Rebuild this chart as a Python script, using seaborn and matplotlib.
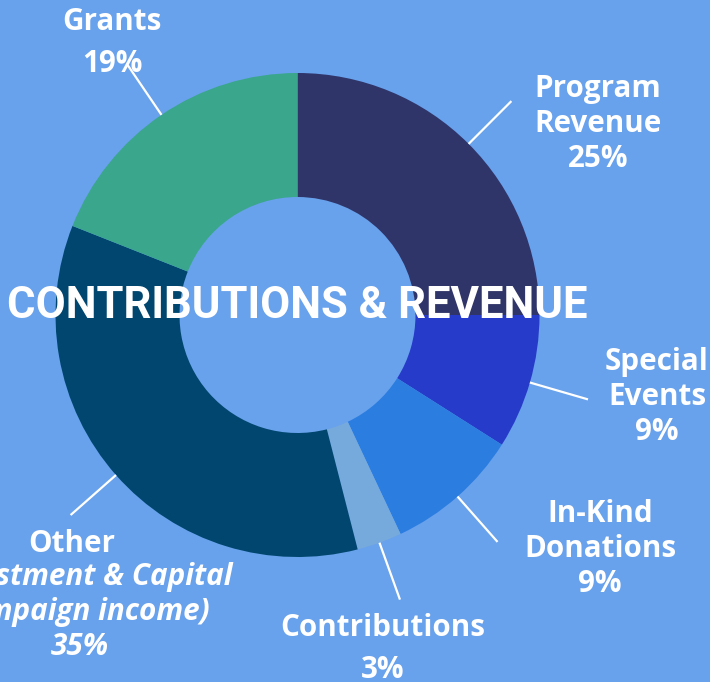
import numpy as np
import matplotlib.pyplot as plt
import seaborn as sns

# ----------------------------------------------------------
# DATA
# ----------------------------------------------------------
categories = ["Program Revenue", "Special Events", "In-Kind Donations",
              "Contributions", "Other", "Grants"]
shares = [25, 9, 9, 3, 35, 19]
slice_colors = ["#2f3469", "#263bc9", "#2b7de0", "#76aadd", "#00466e", "#3aa68c"]

BG = "#68a1ec"
W, H = 710, 682
CX, CY = 297.5, H - 315      # donut centre (pixels, y up)
R = 242                      # outer radius
RING = 124                   # ring width

sns.set_theme(style="white", rc={"figure.facecolor": BG, "axes.facecolor": BG})
plt.rcParams["font.family"] = ["Open Sans", "DejaVu Sans"]

fig = plt.figure(figsize=(W / 100, H / 100), dpi=100)
ax = fig.add_axes([0, 0, 1, 1])

wedges, _ = ax.pie(shares, colors=slice_colors, startangle=90, counterclock=False,
                   center=(CX, CY), radius=R, frame=True,
                   wedgeprops=dict(width=RING, linewidth=0))
ax.set_xlim(0, W)
ax.set_ylim(0, H)
ax.set_aspect("equal")
ax.set_axis_off()

# leader lines, radial from the middle of each slice
for w in wedges:
    mid = np.deg2rad((w.theta1 + w.theta2) / 2)
    r0, r1 = R * 1.0, R * 1.25
    ax.plot([CX + r0 * np.cos(mid), CX + r1 * np.cos(mid)],
            [CY + r0 * np.sin(mid), CY + r1 * np.sin(mid)],
            color="white", lw=1.6, solid_capstyle="butt")

# ── Labels ────────────────────────────────────────────────
lbl = dict(color="white", fontsize=21.3, fontweight="bold", ha="center", va="center")

def label(x, y, s, **kw):
    ax.text(x, H - y, s, **{**lbl, **kw})

label(598, 124, f"Program\nRevenue\n{shares[0]}%")
label(657, 397, f"Special\nEvents\n{shares[1]}%")
label(600, 549, f"In-Kind\nDonations\n{shares[2]}%")
label(383, 649, f"Contributions\n{shares[3]}%", linespacing=1.5)
label(72, 544, "Other")
label(80, 612, f"(Investment & Capital\nCampaign income)\n{shares[4]}%", style="italic")
label(112, 43, f"Grants\n{shares[5]}%", linespacing=1.5)

ax.text(297.5, H - 306, "CONTRIBUTIONS & REVENUE", color="white", fontsize=31.4,
        fontweight="bold", family=["Roboto", "DejaVu Sans"], ha="center", va="center")

fig.savefig("out.png", dpi=100, facecolor=BG)
